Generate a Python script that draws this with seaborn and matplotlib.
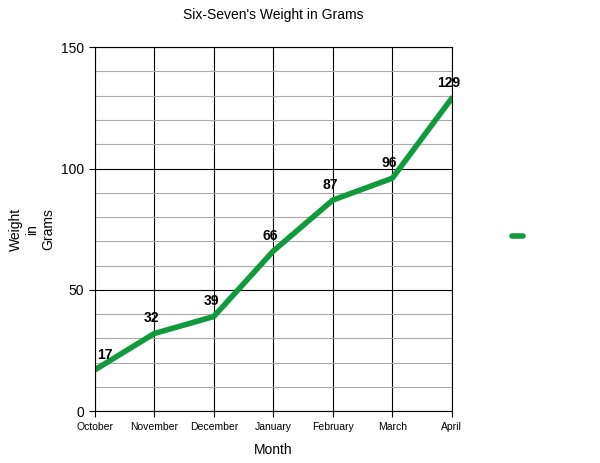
import matplotlib
matplotlib.use("Agg")
import matplotlib.pyplot as plt
import seaborn as sns
import pandas as pd
from matplotlib.ticker import MultipleLocator

months = ["October", "November", "December", "January", "February", "March", "April"]
weights = [17, 32, 39, 66, 87, 96, 129]

df = pd.DataFrame({"Month": range(len(months)), "Weight": weights})

sns.set_style("white")
plt.rcParams['font.family'] = ['Liberation Sans', 'DejaVu Sans']
plt.rcParams['text.color'] = 'black'
plt.rcParams['xtick.color'] = 'black'
plt.rcParams['ytick.color'] = 'black'
plt.rcParams['axes.labelcolor'] = 'black'

fig = plt.figure(figsize=(6, 4.63), dpi=100)
ax = fig.add_axes([0.158, 0.112, 0.595, 0.786])

green = "#109a3c"
sns.lineplot(data=df, x="Month", y="Weight", ax=ax, color=green, linewidth=4, label=" ")

for i, w in enumerate(weights):
    ax.annotate(str(w), (i, w), xytext=(2 if i == 0 else -2, 8), textcoords="offset points",
                fontsize=10, fontweight="bold", ha="left" if i == 0 else "center")

ax.set_xlim(0, len(months) - 1)
ax.set_ylim(0, 150)
ax.set_xticks(range(len(months)))
ax.set_xticklabels(months, fontsize=7.5)
ax.yaxis.set_major_locator(MultipleLocator(50))
ax.yaxis.set_minor_locator(MultipleLocator(10))
ax.tick_params(axis="y", labelsize=10, left=True, length=4)
ax.tick_params(axis="x", bottom=True, length=4)
ax.grid(which="minor", axis="y", color="#aaaaaa", linewidth=0.8)
ax.grid(which="major", axis="y", color="black", linewidth=0.8)
ax.grid(which="major", axis="x", color="black", linewidth=0.8)
ax.set_axisbelow(True)
for s in ax.spines.values():
    s.set_color("black")
    s.set_linewidth(0.8)

ax.set_xlabel("Month", fontsize=10, labelpad=8)
ax.set_ylabel("Weight\nin\nGrams", fontsize=10, rotation=90, labelpad=4)
ax.set_title("Six-Seven's Weight in Grams", fontsize=10, pad=20)

ax.legend(loc="center left", bbox_to_anchor=(1.14, 0.48), frameon=False,
          handlelength=1.0, fontsize=8)

fig.savefig("out.png", dpi=100)
